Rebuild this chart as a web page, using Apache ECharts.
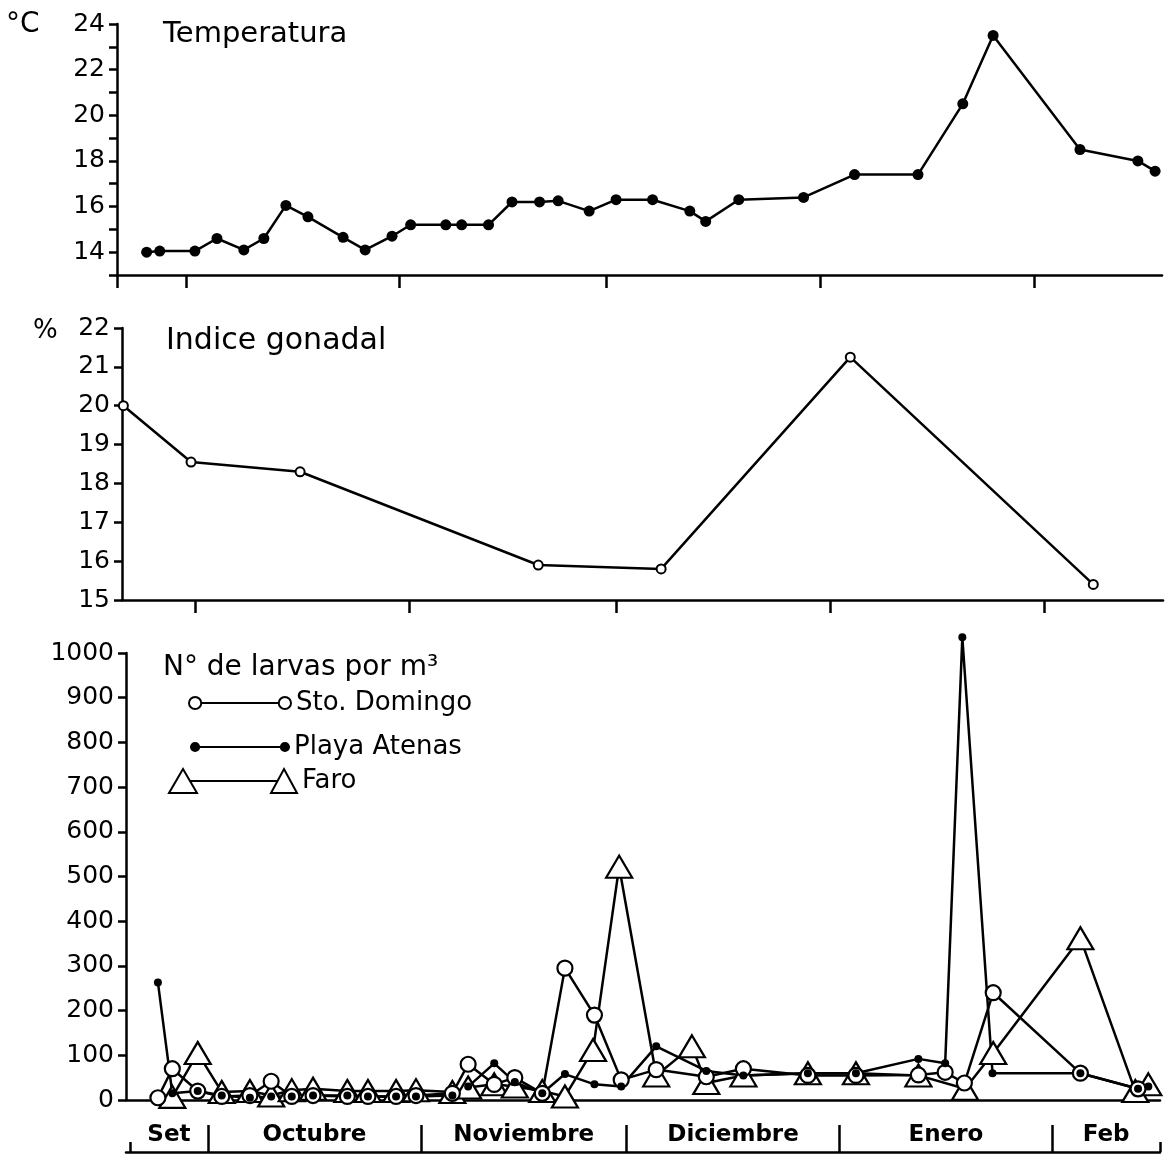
<!DOCTYPE html>
<html><head><meta charset="utf-8">
<script src="https://cdn.jsdelivr.net/npm/echarts@6/dist/echarts.min.js"></script>
<style>html,body{margin:0;padding:0;background:#fff}#c{width:1166px;height:1164px}</style>
</head><body><div id="c"></div>
<script>
// Days counted from 1 September (Oct 1 = 30, Nov 1 = 61, Dec 1 = 91, Jan 1 = 122, Feb 1 = 153)
const tempDays = [24.3,26.2,31.3,34.5,38.4,41.3,44.5,47.7,52.8,56.0,59.9,62.6,67.7,70.0,73.9,77.3,81.3,84.0,88.5,92.4,97.7,103.1,105.4,110.2,119.6,127.0,136.2,142.7,147.1,159.7,168.1,170.6];
const tempVals = [14.0,14.05,14.05,14.6,14.1,14.6,16.05,15.55,14.65,14.1,14.7,15.2,15.2,15.2,15.2,16.2,16.2,16.25,15.8,16.3,16.3,15.8,15.35,16.3,16.4,17.4,17.4,20.5,23.5,18.5,18.0,17.55];

const giDays = [19.6,29.4,45.2,79.7,97.5,124.9,160.1];
const giVals = [20.0,18.55,18.3,15.9,15.8,21.25,15.4];

const stoDays = [22.7,24.8,28.5,32.0,36.1,39.2,42.2,45.3,50.3,53.3,57.4,60.3,65.6,67.9,71.7,74.7,78.7,82.0,86.3,90.2,95.3,102.6,108.0,117.4,124.4,133.5,137.4,140.2,144.4,157.1,165.5];
const stoVals = [5,70,20,8,10,42,8,10,8,8,8,10,15,80,35,50,15,295,190,45,68,52,70,55,55,56,62,38,240,60,25];

const playaDays = [22.7,24.8,28.5,32.0,36.1,39.2,42.2,45.3,50.3,53.3,57.4,60.3,65.6,67.9,71.7,74.7,78.7,82.0,86.3,90.2,95.3,102.6,108.0,117.4,124.4,133.5,137.4,139.9,144.3,157.1,165.5,167.0];
const playaVals = [263,15,20,10,5,8,8,10,10,8,8,8,10,30,82,40,15,58,35,30,120,65,55,60,60,92,82,1035,60,60,25,30];

const faroDays = [24.8,28.5,32.0,36.1,39.2,42.2,45.3,50.3,53.3,57.4,60.3,65.6,67.9,71.7,74.7,78.7,82.0,86.1,89.9,95.3,100.5,102.6,108.0,117.4,124.4,133.5,140.3,144.4,157.1,165.1,167.0];
const faroVals = [7,105,18,20,10,22,25,20,20,20,22,18,28,35,30,20,8,112,522,55,120,38,55,60,60,55,25,105,362,20,35];

const monthBounds = [30,61,91,122,153];
const monthNames = ['Set','Octubre','Noviembre','Diciembre','Enero','Feb'];
const tempTickLabels = [14,16,18,20,22,24];

const FONT = 'DejaVu Sans';
const pairs = (d, v) => d.map((x, i) => [x, v[i]]);

const xRanges = [[20.0,171.6],[19.4,170.2],[18.05,168.7]];
const bracketStart = 18.6;
const edges = [bracketStart].concat(monthBounds, [xRanges[2][1]]);
const monthMids = monthNames.map((n, i) => (edges[i] + edges[i + 1]) / 2);

const AX = {color:'#000', width:2.5};
const tickLabel = {color:'#000', fontSize:25, fontFamily:FONT, margin:12, formatter:(v)=>String(v)};

function plainX(grid, idx, tickVals){
  return {type:'value', gridIndex:grid, min:xRanges[idx][0], max:xRanges[idx][1], position:'bottom',
    axisLine:{show:true, onZero:false, lineStyle:AX},
    axisTick:{show:true, length:13, lineStyle:AX, customValues:tickVals},
    axisLabel:{show:false}, splitLine:{show:false}};
}
const titleStyle = (s) => ({fontSize:s, fontWeight:'normal', color:'#000', fontFamily:FONT});

const option = {
  animation:false,
  backgroundColor:'#fff',
  textStyle:{fontFamily:FONT},
  title:[
    {text:'°C', left:6, top:11, padding:0, textStyle:titleStyle(28)},
    {text:'Temperatura', left:163, top:20, padding:0, textStyle:titleStyle(29)},
    {text:'%', left:33, top:318, padding:0, textStyle:titleStyle(26)},
    {text:'Indice gonadal', left:166, top:326, padding:0, textStyle:titleStyle(30)},
    {text:'N° de larvas por m³', left:163, top:654, padding:0, textStyle:titleStyle(28)}
  ],
  legend:[
    {data:['Sto. Domingo'], left:188, top:690, padding:0, itemWidth:102, itemHeight:14, selectedMode:false,
     icon:'path://M1,7A6,6,0,1,1,13,7A6,6,0,1,1,1,7ZM13,7L89,7M89,7A6,6,0,1,1,101,7A6,6,0,1,1,89,7Z',
     itemStyle:{color:'#fff', borderColor:'#000', borderWidth:2},
     textStyle:{fontSize:26, color:'#000', fontFamily:FONT}},
    {data:['Playa Atenas'], left:190, top:734, padding:0, itemWidth:98, itemHeight:10, selectedMode:false,
     icon:'path://M0,5A4,4,0,1,1,8,5A4,4,0,1,1,0,5ZM8,5L88,5M88,5A4,4,0,1,1,96,5A4,4,0,1,1,88,5Z',
     itemStyle:{color:'#000', borderColor:'#000', borderWidth:2},
     textStyle:{fontSize:26, color:'#000', fontFamily:FONT}},
    {data:['Faro'], left:168, top:768, padding:0, itemWidth:128, itemHeight:24, selectedMode:false,
     icon:'path://M14,0L28,24L0,24ZM21,12L108,12M115,0L128,24L102,24Z',
     itemStyle:{color:'#fff', borderColor:'#000', borderWidth:2},
     textStyle:{fontSize:26, color:'#000', fontFamily:FONT}}
  ],
  grid:[
    {left:117, right:4, top:24, bottom:889},
    {left:122, right:3, top:328, bottom:564},
    {left:126, right:6, top:653, bottom:64}
  ],
  xAxis:[
    plainX(0, 0, [xRanges[0][0]].concat(monthBounds)),
    plainX(1, 1, monthBounds),
    {type:'value', gridIndex:2, min:xRanges[2][0], max:xRanges[2][1], position:'bottom',
     axisLine:{show:true, onZero:false, lineStyle:AX}, axisTick:{show:false}, axisLabel:{show:false}, splitLine:{show:false}},
    {type:'value', gridIndex:2, min:xRanges[2][0], max:xRanges[2][1], position:'bottom', offset:52,
     axisLine:{show:true, onZero:false, lineStyle:AX},
     axisTick:{show:true, inside:true, length:27, lineStyle:AX, customValues:monthBounds},
     axisLabel:{show:true, inside:true, margin:5, customValues:monthMids,
       formatter:(v)=>{ const i = monthMids.findIndex(m => Math.abs(m - v) < 1e-6); return i >= 0 ? monthNames[i] : ''; },
       color:'#000', fontSize:23, fontWeight:'bold', fontFamily:FONT},
     splitLine:{show:false}},
    {type:'value', gridIndex:2, min:xRanges[2][0], max:xRanges[2][1], position:'bottom', offset:52,
     axisLine:{show:false, onZero:false},
     axisTick:{show:true, inside:true, length:10, lineStyle:AX, customValues:[bracketStart, xRanges[2][1]]},
     axisLabel:{show:false}, splitLine:{show:false}}
  ],
  yAxis:[
    {type:'value', gridIndex:0, min:13, max:24, interval:1,
     axisLine:{show:true, onZero:false, lineStyle:AX}, axisTick:{show:true, length:8, lineStyle:AX},
     axisLabel:Object.assign({}, tickLabel, {formatter:(v)=> tempTickLabels.includes(v) ? String(v) : ''}),
     splitLine:{show:false}},
    {type:'value', gridIndex:1, min:15, max:22, interval:1,
     axisLine:{show:true, onZero:false, lineStyle:AX}, axisTick:{show:true, length:8, lineStyle:AX},
     axisLabel:tickLabel, splitLine:{show:false}},
    {type:'value', gridIndex:2, min:0, max:1000, interval:100,
     axisLine:{show:true, onZero:false, lineStyle:AX}, axisTick:{show:true, length:8, lineStyle:AX},
     axisLabel:tickLabel, splitLine:{show:false}}
  ],
  series:[
    {name:'Temperatura', type:'line', xAxisIndex:0, yAxisIndex:0, data:pairs(tempDays, tempVals), clip:false,
     symbol:'circle', symbolSize:11, showAllSymbol:true, itemStyle:{color:'#000'}, lineStyle:{color:'#000', width:2.5}},
    {name:'Indice gonadal', type:'line', xAxisIndex:1, yAxisIndex:1, data:pairs(giDays, giVals), clip:false,
     symbol:'circle', symbolSize:9, showAllSymbol:true, itemStyle:{color:'#fff', borderColor:'#000', borderWidth:2}, lineStyle:{color:'#000', width:2.5}},
    {name:'Faro', type:'line', xAxisIndex:2, yAxisIndex:2, data:pairs(faroDays, faroVals), clip:false,
     symbol:'triangle', symbolSize:[26,22], showAllSymbol:true, itemStyle:{color:'#fff', borderColor:'#000', borderWidth:2.2}, lineStyle:{color:'#000', width:2.5}},
    {name:'Sto. Domingo', type:'line', xAxisIndex:2, yAxisIndex:2, data:pairs(stoDays, stoVals), clip:false,
     symbol:'circle', symbolSize:15, showAllSymbol:true, itemStyle:{color:'#fff', borderColor:'#000', borderWidth:2.2}, lineStyle:{color:'#000', width:2.5}},
    {name:'Playa Atenas', type:'line', xAxisIndex:2, yAxisIndex:2, data:pairs(playaDays, playaVals), clip:false,
     symbol:'circle', symbolSize:8, showAllSymbol:true, itemStyle:{color:'#000'}, lineStyle:{color:'#000', width:2.5}}
  ]
};

const chart = echarts.init(document.getElementById('c'), null, {renderer:'canvas'});
chart.setOption(option);
</script>
</body></html>
